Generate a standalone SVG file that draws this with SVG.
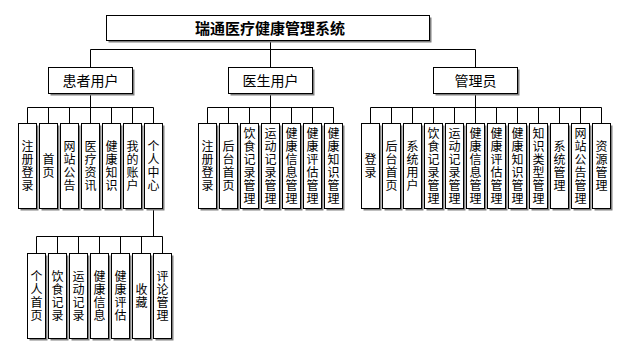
<svg xmlns="http://www.w3.org/2000/svg" width="632" height="348" viewBox="0 0 632 348">
<style>
.bx{fill:#fff;stroke:#000;stroke-width:1}
.sh{fill:#808080}
.t{font-family:"Noto Sans CJK SC","Liberation Sans",sans-serif;fill:#000;text-anchor:middle}
.c{font-size:12px;writing-mode:vertical-rl;letter-spacing:1px}
.m{font-size:14px}
.ttl{font-size:15px;font-weight:bold}
.ln{fill:none;stroke:#000;stroke-width:1}
</style>
<rect width="632" height="348" fill="#fff"/>
<g id="connectors">
<path class="ln" d="M270.5 41V67.5M90.5 49.5H475.5M90.5 49.5V67.5M475.5 49.5V67.5"/>
<path class="ln" d="M90.5 94V107.5M27.5 107.5H153.5M27.5 107.5V123.5M48.5 107.5V123.5M69.5 107.5V123.5M90.5 107.5V123.5M111.5 107.5V123.5M132.5 107.5V123.5M153.5 107.5V123.5"/>
<path class="ln" d="M270.5 94V107.5M207.5 107.5H333.5M207.5 107.5V123.5M228.5 107.5V123.5M249.5 107.5V123.5M270.5 107.5V123.5M291.5 107.5V123.5M312.5 107.5V123.5M333.5 107.5V123.5"/>
<path class="ln" d="M475.5 94V107.5M370.5 107.5H601.5M370.5 107.5V123.5M391.5 107.5V123.5M412.5 107.5V123.5M433.5 107.5V123.5M454.5 107.5V123.5M475.5 107.5V123.5M496.5 107.5V123.5M517.5 107.5V123.5M538.5 107.5V123.5M559.5 107.5V123.5M580.5 107.5V123.5M601.5 107.5V123.5"/>
<path class="ln" d="M153.5 209V236.5M36.5 236.5H162.5M36.5 236.5V253.5M57.5 236.5V253.5M78.5 236.5V253.5M99.5 236.5V253.5M120.5 236.5V253.5M141.5 236.5V253.5M162.5 236.5V253.5"/>
</g>
<g id="title"><rect class="sh" x="108.5" y="17.5" width="323" height="25"/><rect class="bx" x="106.5" y="15.5" width="323" height="25"/><text class="t ttl" x="270" y="33.5">瑞通医疗健康管理系统</text></g>
<g id="patient"><rect class="sh" x="50.5" y="69.5" width="84" height="26"/><rect class="bx" x="48.5" y="67.5" width="84" height="26"/><text class="t m" x="90.5" y="85.5">患者用户</text></g>
<g id="doctor"><rect class="sh" x="230.5" y="69.5" width="84" height="26"/><rect class="bx" x="228.5" y="67.5" width="84" height="26"/><text class="t m" x="270.5" y="85.5">医生用户</text></g>
<g id="admin"><rect class="sh" x="435.5" y="69.5" width="84" height="26"/><rect class="bx" x="433.5" y="67.5" width="84" height="26"/><text class="t m" x="475.5" y="85.5">管理员</text></g>

<g id="p1"><rect class="sh" x="20.5" y="125.5" width="18" height="85"/><rect class="bx" x="18.5" y="123.5" width="18" height="85"/><text class="t c" x="27.5" y="166.5">注册登录</text></g>
<g id="p2"><rect class="sh" x="41.5" y="125.5" width="18" height="85"/><rect class="bx" x="39.5" y="123.5" width="18" height="85"/><text class="t c" x="48.5" y="166.5">首页</text></g>
<g id="p3"><rect class="sh" x="62.5" y="125.5" width="18" height="85"/><rect class="bx" x="60.5" y="123.5" width="18" height="85"/><text class="t c" x="69.5" y="166.5">网站公告</text></g>
<g id="p4"><rect class="sh" x="83.5" y="125.5" width="18" height="85"/><rect class="bx" x="81.5" y="123.5" width="18" height="85"/><text class="t c" x="90.5" y="166.5">医疗资讯</text></g>
<g id="p5"><rect class="sh" x="104.5" y="125.5" width="18" height="85"/><rect class="bx" x="102.5" y="123.5" width="18" height="85"/><text class="t c" x="111.5" y="166.5">健康知识</text></g>
<g id="p6"><rect class="sh" x="125.5" y="125.5" width="18" height="85"/><rect class="bx" x="123.5" y="123.5" width="18" height="85"/><text class="t c" x="132.5" y="166.5">我的账户</text></g>
<g id="p7"><rect class="sh" x="146.5" y="125.5" width="18" height="85"/><rect class="bx" x="144.5" y="123.5" width="18" height="85"/><text class="t c" x="153.5" y="166.5">个人中心</text></g>

<g id="d1"><rect class="sh" x="200.5" y="125.5" width="18" height="85"/><rect class="bx" x="198.5" y="123.5" width="18" height="85"/><text class="t c" x="207.5" y="166.5">注册登录</text></g>
<g id="d2"><rect class="sh" x="221.5" y="125.5" width="18" height="85"/><rect class="bx" x="219.5" y="123.5" width="18" height="85"/><text class="t c" x="228.5" y="166.5">后台首页</text></g>
<g id="d3"><rect class="sh" x="242.5" y="125.5" width="18" height="85"/><rect class="bx" x="240.5" y="123.5" width="18" height="85"/><text class="t c" x="249.5" y="166.5">饮食记录管理</text></g>
<g id="d4"><rect class="sh" x="263.5" y="125.5" width="18" height="85"/><rect class="bx" x="261.5" y="123.5" width="18" height="85"/><text class="t c" x="270.5" y="166.5">运动记录管理</text></g>
<g id="d5"><rect class="sh" x="284.5" y="125.5" width="18" height="85"/><rect class="bx" x="282.5" y="123.5" width="18" height="85"/><text class="t c" x="291.5" y="166.5">健康信息管理</text></g>
<g id="d6"><rect class="sh" x="305.5" y="125.5" width="18" height="85"/><rect class="bx" x="303.5" y="123.5" width="18" height="85"/><text class="t c" x="312.5" y="166.5">健康评估管理</text></g>
<g id="d7"><rect class="sh" x="326.5" y="125.5" width="18" height="85"/><rect class="bx" x="324.5" y="123.5" width="18" height="85"/><text class="t c" x="333.5" y="166.5">健康知识管理</text></g>

<g id="a1"><rect class="sh" x="363.5" y="125.5" width="18" height="85"/><rect class="bx" x="361.5" y="123.5" width="18" height="85"/><text class="t c" x="370.5" y="166.5">登录</text></g>
<g id="a2"><rect class="sh" x="384.5" y="125.5" width="18" height="85"/><rect class="bx" x="382.5" y="123.5" width="18" height="85"/><text class="t c" x="391.5" y="166.5">后台首页</text></g>
<g id="a3"><rect class="sh" x="405.5" y="125.5" width="18" height="85"/><rect class="bx" x="403.5" y="123.5" width="18" height="85"/><text class="t c" x="412.5" y="166.5">系统用户</text></g>
<g id="a4"><rect class="sh" x="426.5" y="125.5" width="18" height="85"/><rect class="bx" x="424.5" y="123.5" width="18" height="85"/><text class="t c" x="433.5" y="166.5">饮食记录管理</text></g>
<g id="a5"><rect class="sh" x="447.5" y="125.5" width="18" height="85"/><rect class="bx" x="445.5" y="123.5" width="18" height="85"/><text class="t c" x="454.5" y="166.5">运动记录管理</text></g>
<g id="a6"><rect class="sh" x="468.5" y="125.5" width="18" height="85"/><rect class="bx" x="466.5" y="123.5" width="18" height="85"/><text class="t c" x="475.5" y="166.5">健康信息管理</text></g>
<g id="a7"><rect class="sh" x="489.5" y="125.5" width="18" height="85"/><rect class="bx" x="487.5" y="123.5" width="18" height="85"/><text class="t c" x="496.5" y="166.5">健康评估管理</text></g>
<g id="a8"><rect class="sh" x="510.5" y="125.5" width="18" height="85"/><rect class="bx" x="508.5" y="123.5" width="18" height="85"/><text class="t c" x="517.5" y="166.5">健康知识管理</text></g>
<g id="a9"><rect class="sh" x="531.5" y="125.5" width="18" height="85"/><rect class="bx" x="529.5" y="123.5" width="18" height="85"/><text class="t c" x="538.5" y="166.5">知识类型管理</text></g>
<g id="a10"><rect class="sh" x="552.5" y="125.5" width="18" height="85"/><rect class="bx" x="550.5" y="123.5" width="18" height="85"/><text class="t c" x="559.5" y="166.5">系统管理</text></g>
<g id="a11"><rect class="sh" x="573.5" y="125.5" width="18" height="85"/><rect class="bx" x="571.5" y="123.5" width="18" height="85"/><text class="t c" x="580.5" y="166.5">网站公告管理</text></g>
<g id="a12"><rect class="sh" x="594.5" y="125.5" width="18" height="85"/><rect class="bx" x="592.5" y="123.5" width="18" height="85"/><text class="t c" x="601.5" y="166.5">资源管理</text></g>

<g id="s1"><rect class="sh" x="29.5" y="255.5" width="18" height="85"/><rect class="bx" x="27.5" y="253.5" width="18" height="85"/><text class="t c" x="36.5" y="296.5">个人首页</text></g>
<g id="s2"><rect class="sh" x="50.5" y="255.5" width="18" height="85"/><rect class="bx" x="48.5" y="253.5" width="18" height="85"/><text class="t c" x="57.5" y="296.5">饮食记录</text></g>
<g id="s3"><rect class="sh" x="71.5" y="255.5" width="18" height="85"/><rect class="bx" x="69.5" y="253.5" width="18" height="85"/><text class="t c" x="78.5" y="296.5">运动记录</text></g>
<g id="s4"><rect class="sh" x="92.5" y="255.5" width="18" height="85"/><rect class="bx" x="90.5" y="253.5" width="18" height="85"/><text class="t c" x="99.5" y="296.5">健康信息</text></g>
<g id="s5"><rect class="sh" x="113.5" y="255.5" width="18" height="85"/><rect class="bx" x="111.5" y="253.5" width="18" height="85"/><text class="t c" x="120.5" y="296.5">健康评估</text></g>
<g id="s6"><rect class="sh" x="134.5" y="255.5" width="18" height="85"/><rect class="bx" x="132.5" y="253.5" width="18" height="85"/><text class="t c" x="141.5" y="296.5">收藏</text></g>
<g id="s7"><rect class="sh" x="155.5" y="255.5" width="18" height="85"/><rect class="bx" x="153.5" y="253.5" width="18" height="85"/><text class="t c" x="162.5" y="296.5">评论管理</text></g>
</svg>
